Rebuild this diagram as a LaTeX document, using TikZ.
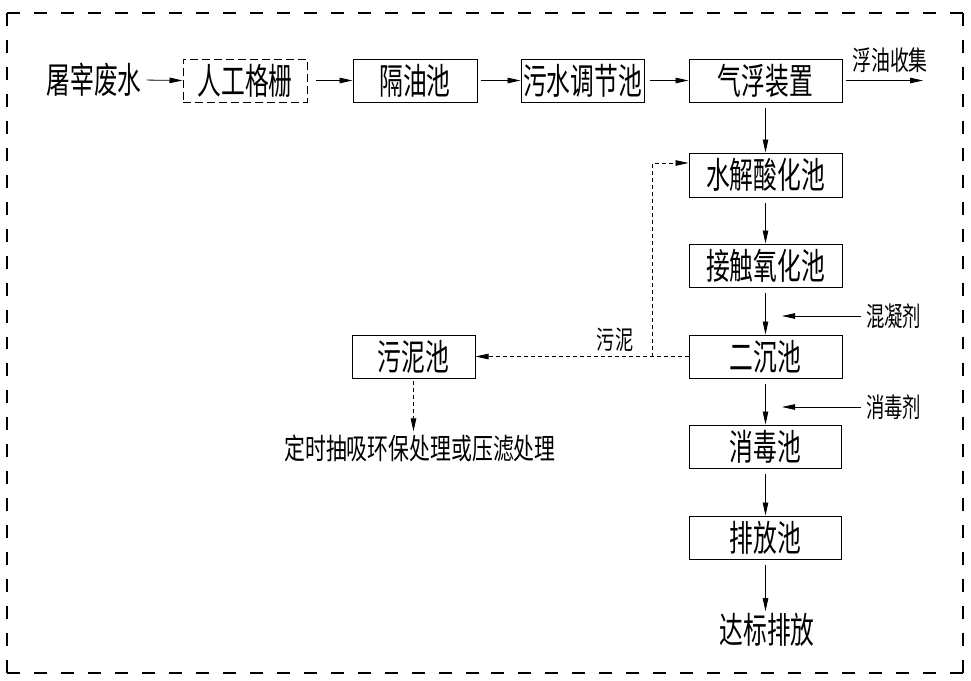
\documentclass[tikz,border=0pt]{standalone}
\usepackage{fontspec}
\usepackage{graphicx}
\usetikzlibrary{arrows.meta}
\newfontfamily\cjk{Noto Sans CJK SC}
\newcommand\btx[1]{\scalebox{0.66}[1]{\fontsize{36}{36}\selectfont\cjk #1}}
\newcommand\stx[3]{\scalebox{#2}[1]{\fontsize{#1}{#1}\selectfont\cjk #3}}
\begin{document}
\begin{tikzpicture}[x=1pt,y=-1pt,
  box/.style={draw, line width=1pt, minimum height=43pt, inner sep=0pt},
  dbox/.style={draw, line width=1pt, minimum height=43pt, inner sep=0pt, dash pattern=on 8pt off 4pt},
  lbl/.style={inner sep=0pt},
  arr/.style={-{Triangle[length=13pt,width=5.5pt]}, line width=0.8pt, shorten <=5pt},
  sl/.style={-{Triangle[length=13pt,width=5.5pt]}, line width=0.8pt, dash pattern=on 4pt off 3pt},
  frm/.style={line width=1.2pt, dash pattern=on 13pt off 14pt}]
\useasboundingbox (0,0) rectangle (971,680);
% frame
\draw[frm] (7,13) -- (485,13);
\draw[frm] (963,13) -- (485,13);
\draw[frm] (7,673) -- (485,673);
\draw[frm] (963,673) -- (485,673);
\draw[frm] (7,13) -- (7,343);
\draw[frm] (7,673) -- (7,343);
\draw[frm] (963,13) -- (963,343);
\draw[frm] (963,673) -- (963,343);
% nodes
\node[lbl] (tz) at (94,80) {\btx{屠宰废水}};
\node[dbox, minimum width=124pt] (rg) at (245,80.5) {\btx{人工格栅}};
\node[box, minimum width=124pt] (gy) at (415,80.5) {\btx{隔油池}};
\node[box, minimum width=123pt] (ws) at (582.5,80.5) {\btx{污水调节池}};
\node[box, minimum width=153pt] (qf) at (765.5,80.5) {\btx{气浮装置}};
\node[box, minimum width=153pt, minimum height=44pt] (sj) at (765.5,175) {\btx{水解酸化池}};
\node[box, minimum width=153pt] (jc) at (765.5,265.5) {\btx{接触氧化池}};
\node[box, minimum width=153pt] (ec) at (765.5,356.5) {\btx{二沉池}};
\node[box, minimum width=152pt] (xd) at (765.5,446.5) {\btx{消毒池}};
\node[box, minimum width=152pt] (pf) at (765.5,537.5) {\btx{排放池}};
\node[lbl] (db) at (767,630) {\btx{达标排放}};
\node[box, minimum width=123pt] (wn) at (413.5,356.5) {\btx{污泥池}};
\node[lbl] (ds) at (420,448) {\stx{29}{0.72}{定时抽吸环保处理或压滤处理}};
\node[lbl] (fy) at (890,60) {\stx{27}{0.7}{浮油收集}};
\node[lbl, anchor=west] (hn) at (866,316) {\stx{27}{0.68}{混凝剂}};
\node[lbl, anchor=west] (xj) at (866,407) {\stx{27}{0.68}{消毒剂}};
\node[lbl] (wl) at (615,340) {\stx{26}{0.7}{污泥}};
% coordinates
\coordinate (fye) at (923,80.5);
\coordinate (hin) at (782,316);
\coordinate (xin) at (782,407);
\coordinate (br) at (652,356.5);
% main flow
\draw[arr] (tz.east) -- (rg.west);
\draw[arr, shorten <=8pt] (rg.east) -- (gy.west);
\draw[arr, shorten <=3pt] (gy.east) -- (ws.west);
\draw[arr] (ws.east) -- (qf.west);
\draw[arr, shorten <=3pt] (qf.east) -- (fye);
\draw[arr] (qf.south) -- (sj.north);
\draw[arr] (sj.south) -- (jc.north);
\draw[arr] (jc.south) -- (ec.north);
\draw[arr] (ec.south) -- (xd.north);
\draw[arr] (xd.south) -- (pf.north);
\draw[arr, shorten >=2pt] (pf.south) -- (pf.south |- db.north);
\draw[arr] (hn.west) -- (hin);
\draw[arr] (xj.west) -- (xin);
% sludge
\draw[sl] (ec.west) -- (wn.east);
\draw[sl] (br) |- ([yshift=12pt]sj.west);
\draw[sl, shorten <=2pt, shorten >=3pt] (wn.south) -- (wn.south |- ds.north);
\end{tikzpicture}
\end{document}
